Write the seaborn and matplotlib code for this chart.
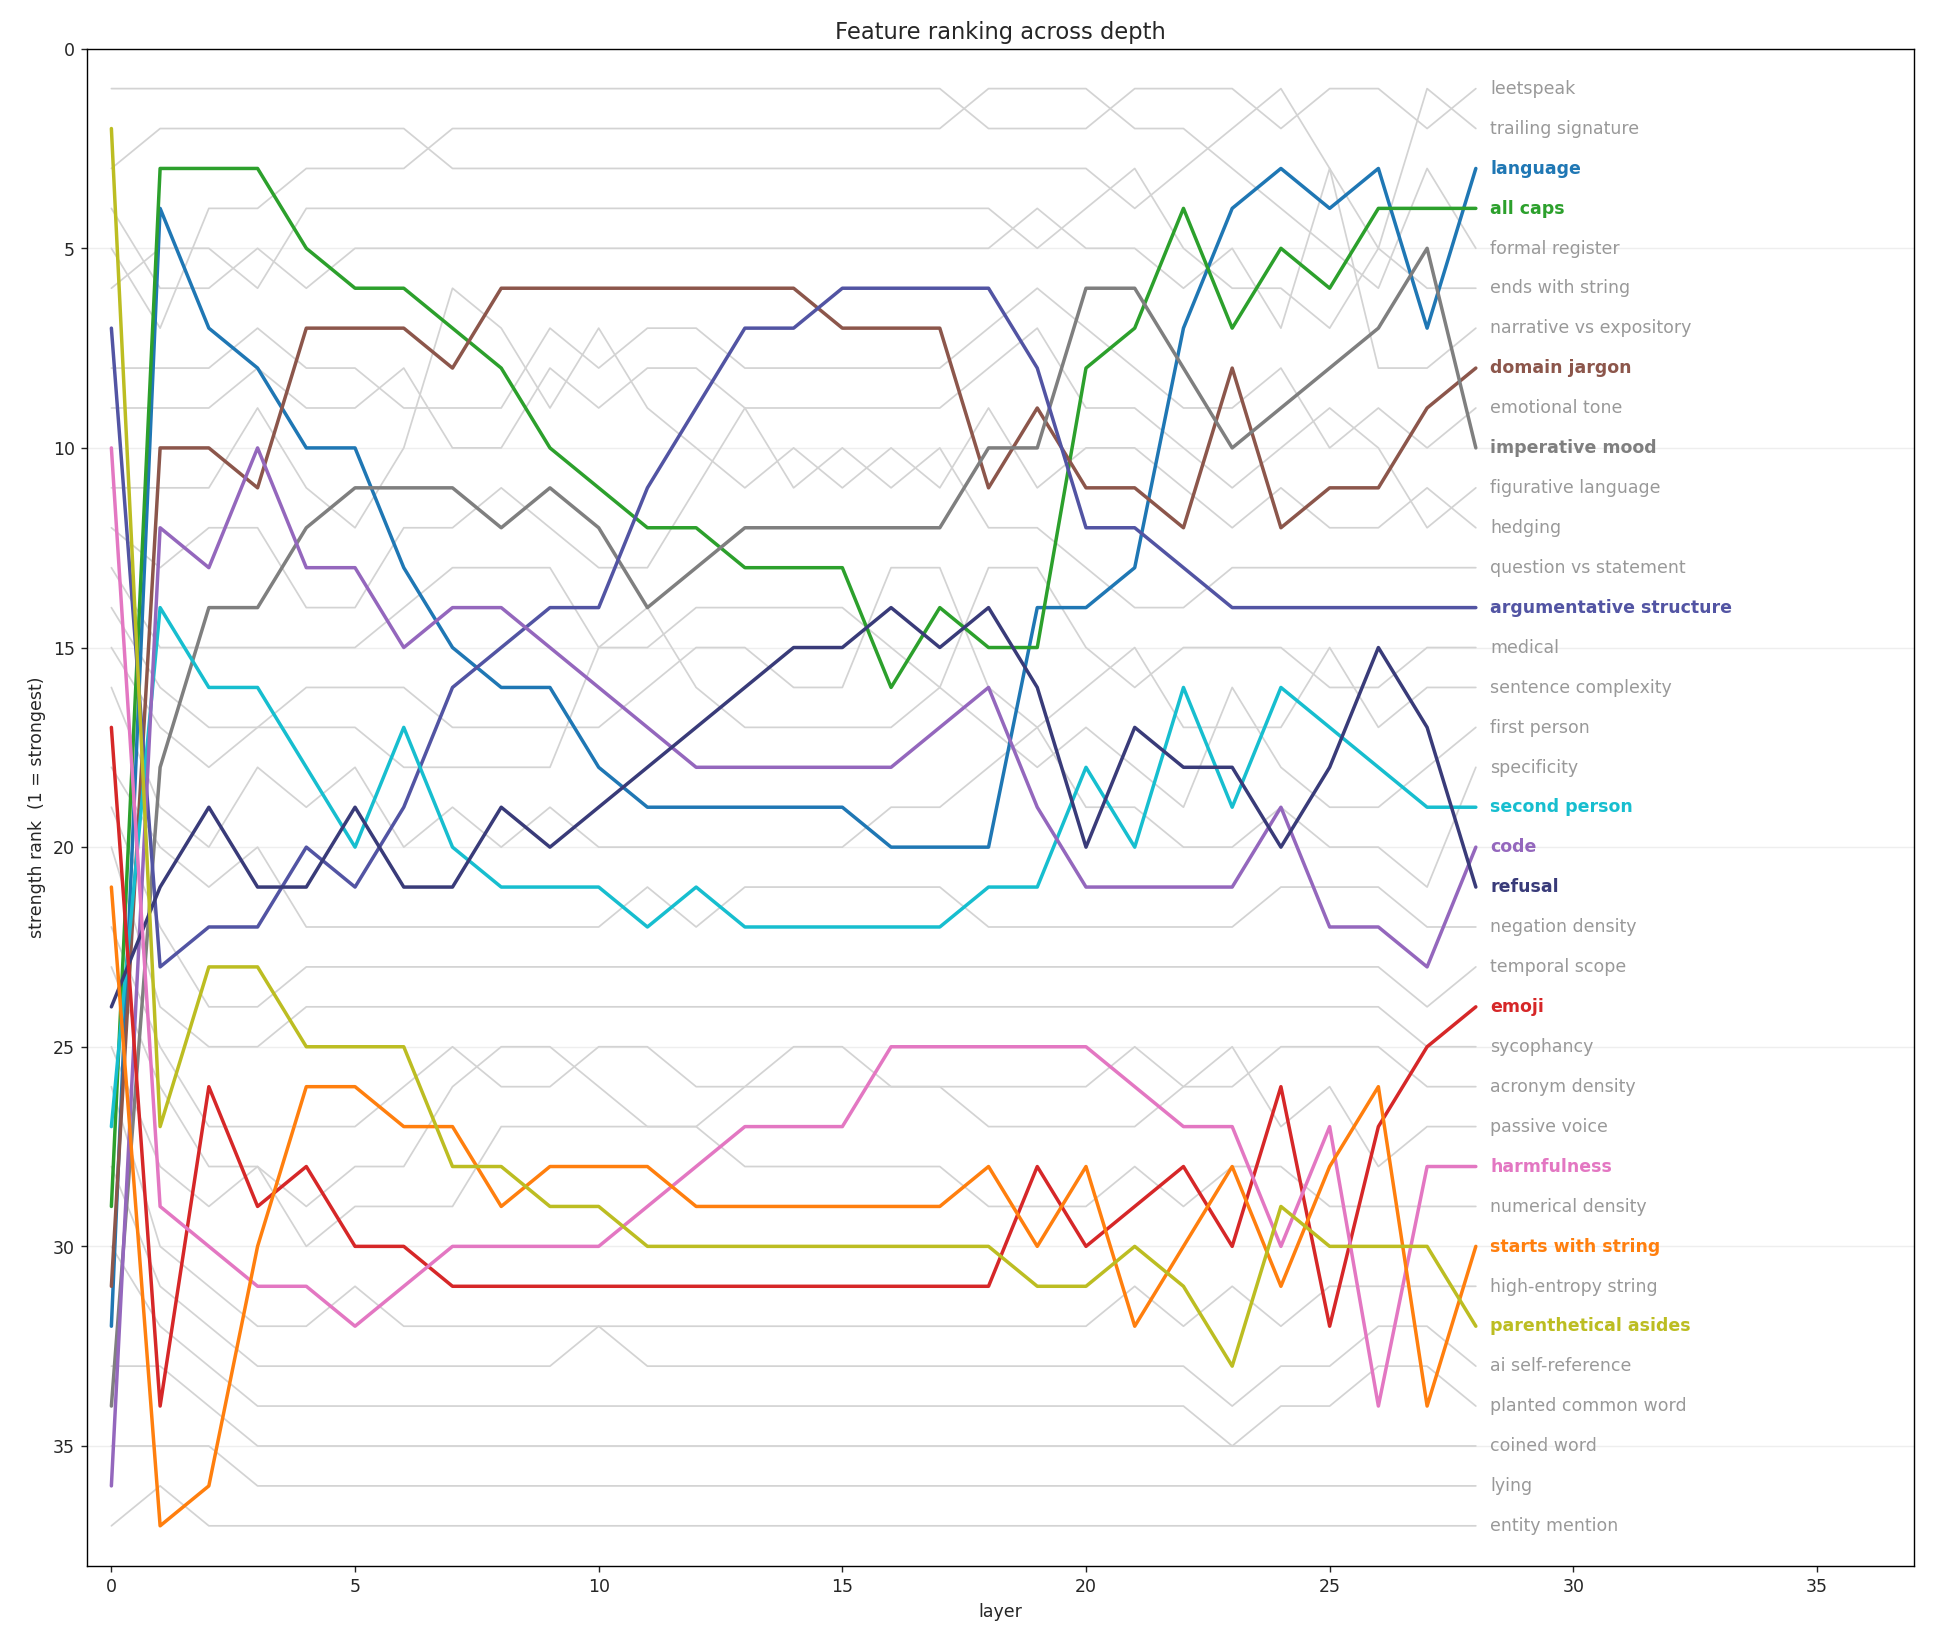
import matplotlib
matplotlib.use("Agg")
import matplotlib.pyplot as plt
import seaborn as sns
import pandas as pd
import numpy as np

layers = list(range(29))

highlight = {
 "language": ("#1f77b4", [32,4,7,8,10,10,13,15,16,16,18,19,19,19,19,19,20,20,20,14,14,13,7,4,3,4,3,7,3]),
 "all caps": ("#2ca02c", [29,3,3,3,5,6,6,7,8,10,11,12,12,13,13,13,16,14,15,15,8,7,4,7,5,6,4,4,4]),
 "domain jargon": ("#8c564b", [31,10,10,11,7,7,7,8,6,6,6,6,6,6,6,7,7,7,11,9,11,11,12,8,12,11,11,9,8]),
 "imperative mood": ("#7f7f7f", [34,18,14,14,12,11,11,11,12,11,12,14,13,12,12,12,12,12,10,10,6,6,8,10,9,8,7,5,10]),
 "argumentative structure": ("#5254a3", [7,23,22,22,20,21,19,16,15,14,14,11,9,7,7,6,6,6,6,8,12,12,13,14,14,14,14,14,14]),
 "second person": ("#17becf", [27,14,16,16,18,20,17,20,21,21,21,22,21,22,22,22,22,22,21,21,18,20,16,19,16,17,18,19,19]),
 "code": ("#9467bd", [36,12,13,10,13,13,15,14,14,15,16,17,18,18,18,18,18,17,16,19,21,21,21,21,19,22,22,23,20]),
 "refusal": ("#393b79", [24,21,19,21,21,19,21,21,19,20,19,18,17,16,15,15,14,15,14,16,20,17,18,18,20,18,15,17,21]),
 "emoji": ("#d62728", [17,34,26,29,28,30,30,31,31,31,31,31,31,31,31,31,31,31,31,28,30,29,28,30,26,32,27,25,24]),
 "harmfulness": ("#e377c2", [10,29,30,31,31,32,31,30,30,30,30,29,28,27,27,27,25,25,25,25,25,26,27,27,30,27,34,28,28]),
 "starts with string": ("#ff7f0e", [21,37,36,30,26,26,27,27,29,28,28,28,29,29,29,29,29,29,28,30,28,32,30,28,31,28,26,34,30]),
 "parenthetical asides": ("#bcbd22", [2,27,23,23,25,25,25,28,28,29,29,30,30,30,30,30,30,30,30,31,31,30,31,33,29,30,30,30,32]),
}

gray = {
 "leetspeak": [1,1,1,1,1,1,1,1,1,1,1,1,1,1,1,1,1,1,2,2,2,1,1,1,2,1,1,2,1],
 "trailing signature": [3,2,2,2,2,2,2,3,3,3,3,3,3,3,3,3,3,3,3,3,3,4,3,2,1,3,5,1,2],
 "formal register": [5,7,4,4,3,3,3,2,2,2,2,2,2,2,2,2,2,2,1,1,1,2,2,3,4,5,6,3,5],
 "ends with string": [6,5,5,6,4,4,4,4,4,4,4,4,4,4,4,4,4,4,4,5,4,3,5,6,6,7,5,6,6],
 "narrative vs expository": [4,6,6,5,6,5,5,5,5,5,5,5,5,5,5,5,5,5,5,4,5,5,6,5,7,3,8,8,7],
 "emotional tone": [8,8,8,7,8,8,9,9,9,7,8,7,7,8,8,8,8,8,7,6,7,8,9,9,8,10,9,10,9],
 "figurative language": [9,9,9,8,9,9,8,10,10,8,9,8,8,9,9,9,9,9,8,7,9,9,10,11,10,9,10,12,11],
 "hedging": [11,11,11,9,11,12,10,6,7,9,7,9,10,11,10,11,10,11,9,11,10,10,11,12,11,12,12,11,12],
 "question vs statement": [12,13,12,12,14,14,12,12,11,12,13,13,11,9,11,10,11,10,12,12,13,14,14,13,13,13,13,13,13],
 "medical": [13,15,15,15,15,15,14,13,13,13,15,15,14,14,14,14,15,16,13,13,15,16,15,15,15,16,16,15,15],
 "sentence complexity": [14,16,17,17,16,16,16,17,17,17,17,16,15,15,16,16,13,13,16,17,16,15,17,17,17,15,17,16,16],
 "first person": [15,17,18,17,17,17,18,18,18,18,15,14,16,17,17,17,17,16,17,18,17,18,19,16,18,19,19,18,17],
 "specificity": [16,19,20,18,19,18,20,19,20,19,20,20,20,20,20,20,19,19,18,17,19,19,20,20,19,20,20,21,18],
 "negation density": [18,20,21,20,22,22,22,22,22,22,22,21,22,21,21,21,21,21,22,22,22,22,22,22,21,21,21,22,22],
 "temporal scope": [19,22,24,24,23,23,23,23,23,23,23,23,23,23,23,23,23,23,23,23,23,23,23,23,23,23,23,24,23],
 "sycophancy": [20,24,25,25,24,24,24,24,24,24,24,24,24,24,24,24,24,24,24,24,24,24,24,24,24,24,24,25,25],
 "acronym density": [22,25,27,27,27,27,26,25,26,26,25,25,26,26,26,26,26,26,26,26,26,25,26,26,25,25,25,26,26],
 "passive voice": [23,26,28,28,29,28,28,26,25,25,26,27,27,26,25,25,26,26,27,27,27,27,26,25,27,26,28,27,27],
 "numerical density": [25,28,29,28,30,29,29,29,27,27,27,27,27,28,28,28,28,28,29,29,29,28,29,28,28,29,29,29,29],
 "high-entropy string": [26,30,31,32,32,31,32,32,32,32,32,32,32,32,32,32,32,32,32,32,32,31,32,31,32,31,31,31,31],
 "ai self-reference": [28,31,32,33,33,33,33,33,33,33,32,33,33,33,33,33,33,33,33,33,33,33,33,34,33,33,32,32,33],
 "planted common word": [30,32,33,34,34,34,34,34,34,34,34,34,34,34,34,34,34,34,34,34,34,34,34,35,34,34,33,33,34],
 "coined word": [33,33,34,35,35,35,35,35,35,35,35,35,35,35,35,35,35,35,35,35,35,35,35,35,35,35,35,35,35],
 "lying": [35,35,35,36,36,36,36,36,36,36,36,36,36,36,36,36,36,36,36,36,36,36,36,36,36,36,36,36,36],
 "entity mention": [37,36,37,37,37,37,37,37,37,37,37,37,37,37,37,37,37,37,37,37,37,37,37,37,37,37,37,37,37],
}

rows = []
for name, vals in gray.items():
    for l, v in zip(layers, vals):
        rows.append((name, l, v, False))
for name, (c, vals) in highlight.items():
    for l, v in zip(layers, vals):
        rows.append((name, l, v, True))
df = pd.DataFrame(rows, columns=["feature", "layer", "rank", "hl"])

sns.set_style("white")
fig, ax = plt.subplots(figsize=(15.47, 13.05), dpi=125)
for y in range(5, 40, 5):
    ax.axhline(y, color="#eeeeee", lw=0.8, zorder=0)

gdf = df[~df.hl]
sns.lineplot(data=gdf, x="layer", y="rank", units="feature", estimator=None,
             color="#d3d3d3", lw=1, ax=ax, legend=False, zorder=1)
hdf = df[df.hl]
pal = {k: v[0] for k, v in highlight.items()}
sns.lineplot(data=hdf, x="layer", y="rank", hue="feature", palette=pal, estimator=None,
             lw=2, ax=ax, legend=False, zorder=2)

for name, vals in gray.items():
    ax.text(28.3, vals[-1], name, color="#999999", fontsize=10, va="center")
for name, (c, vals) in highlight.items():
    ax.text(28.3, vals[-1], name, color=c, fontsize=10, va="center", fontweight="bold")

ax.set_xlim(-0.5, 37)
ax.set_ylim(38, 0)
ax.set_xticks([0, 5, 10, 15, 20, 25, 30, 35])
ax.set_yticks([0, 5, 10, 15, 20, 25, 30, 35])
ax.set_xlabel("layer")
ax.set_ylabel("strength rank  (1 = strongest)")
ax.set_title("Feature ranking across depth", fontsize=13)
for s in ax.spines.values():
    s.set_visible(True); s.set_color("black")
ax.tick_params(left=True, bottom=True)
fig.subplots_adjust(left=0.045, right=0.99, top=0.97, bottom=0.04)
fig.savefig("out.png", dpi=125)
